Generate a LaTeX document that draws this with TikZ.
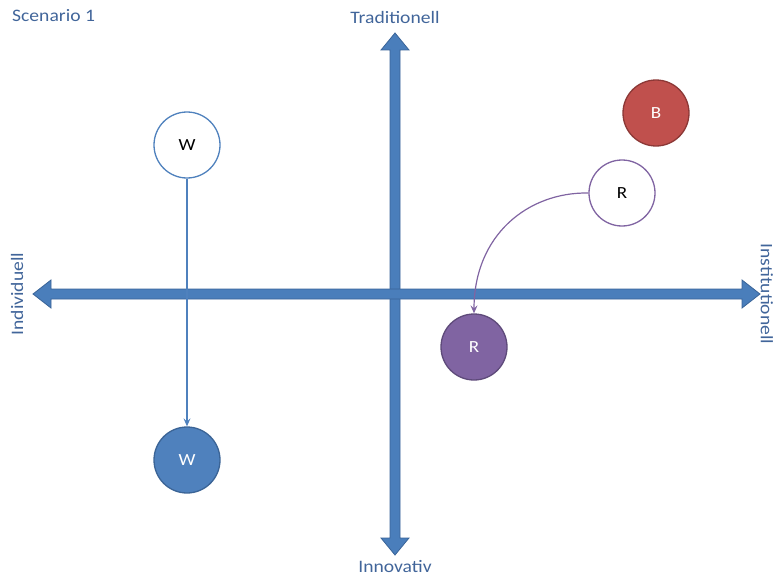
\documentclass[tikz,border=0pt]{standalone}
\usepackage{fontspec}
\setmainfont{Carlito}[FakeStretch=1.12]
\usetikzlibrary{arrows.meta}
\definecolor{axisblue}{HTML}{4A7EBB}
\definecolor{axisedge}{HTML}{3A6498}
\definecolor{labelblue}{HTML}{41659A}
\definecolor{wblue}{HTML}{4F81BD}
\definecolor{wedge}{HTML}{3B6496}
\definecolor{bred}{HTML}{C0504D}
\definecolor{bedge}{HTML}{8C3836}
\definecolor{rpurple}{HTML}{8064A2}
\definecolor{redge}{HTML}{5E4A7A}
\tikzset{
  lbl/.style={text=labelblue, font=\fontsize{17.5}{20}\selectfont, inner sep=0pt},
  circ/.style={circle, minimum size=66pt, inner sep=0pt, line width=1.3pt, font=\fontsize{17}{20}\selectfont},
  openc/.style={circ, draw=#1, fill=white, text=black},
  fillc/.style={circ, draw=#1, text=white},
  conn/.style={line width=1.2pt, draw=#1, -{Stealth[length=8pt,width=7pt,inset=3pt,fill=#1]}},
  axisarrow/.style={fill=axisblue, draw=axisedge, line width=0.8pt, line join=miter}
}
\begin{document}
\begin{tikzpicture}[x=1pt,y=-1pt]
\useasboundingbox (0,0) rectangle (774,578);
% vertical axis
\draw[axisarrow] (395,33) -- (409,50) -- (400,50) -- (400,538) -- (409,538) -- (395,555)
  -- (381,538) -- (390,538) -- (390,50) -- (381,50) -- cycle;
% horizontal axis
\draw[axisarrow] (33,294) -- (51,280) -- (51,289) -- (742,289) -- (742,280) -- (760,294)
  -- (742,308) -- (742,299) -- (51,299) -- (51,308) -- cycle;
% labels
\node[lbl, anchor=west] (scen) at (12,16) {Scenario 1};
\node[lbl] (trad) at (395,17) {Traditionell};
\node[lbl] (innov) at (395,567) {Innovativ};
\node[lbl, rotate=90] (indiv) at (17,294) {Individuell};
\node[lbl, rotate=-90] (inst) at (767,294) {Institutionell};
% circles
\node[openc=wblue] (w1) at (187,145) {W};
\node[fillc=wedge, fill=wblue] (w2) at (187,460) {W};
\node[fillc=bedge, fill=bred] (b) at (656,113) {B};
\node[openc=rpurple] (r1) at (622,193) {R};
\node[fillc=redge, fill=rpurple] (r2) at (474,347) {R};
% connectors
\draw[conn=wblue] (w1) -- (w2);
\draw[conn=rpurple] (r1.west) .. controls (528,192) and (474,235) .. (r2.north);
\end{tikzpicture}
\end{document}
